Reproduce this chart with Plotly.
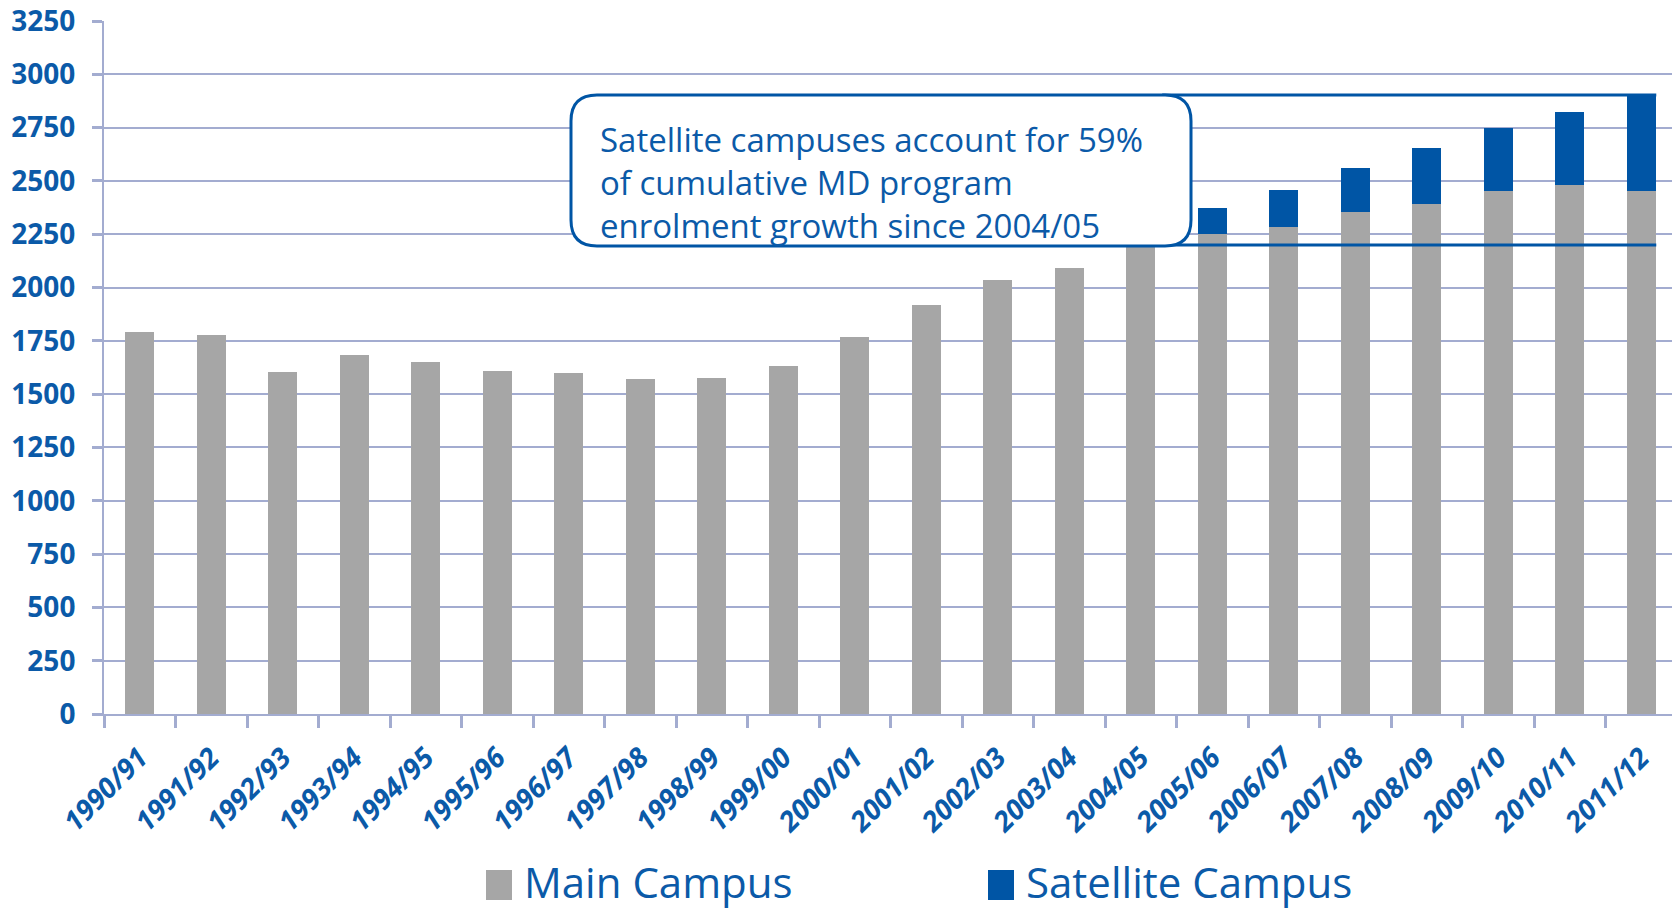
import plotly.graph_objects as go

years = ["1990/91", "1991/92", "1992/93", "1993/94", "1994/95", "1995/96", "1996/97",
         "1997/98", "1998/99", "1999/00", "2000/01", "2001/02", "2002/03", "2003/04",
         "2004/05", "2005/06", "2006/07", "2007/08", "2008/09", "2009/10", "2010/11", "2011/12"]
main_campus = [1792, 1777, 1602, 1682, 1652, 1607, 1597, 1572, 1577, 1632, 1767, 1918,
               2037, 2092, 2200, 2253, 2283, 2354, 2394, 2455, 2480, 2455]
satellite_campus = [0, 0, 0, 0, 0, 0, 0, 0, 0, 0, 0, 0, 0, 0, 0,
                    118, 173, 207, 262, 292, 342, 448]
y_ticks = list(range(0, 3251, 250))
note_text = ("Satellite campuses account for 59%<br>of cumulative MD program<br>"
             "enrolment growth since 2004/05")

GRAY = "#a6a6a6"
BLUE = "#0055a5"
TXT = "#0b5aa8"
GRID = "#a3acd0"

fig = go.Figure()
fig.add_bar(x=years, y=main_campus, name="Main Campus", marker_color=GRAY,
            marker_line_width=0, showlegend=False)
fig.add_bar(x=years, y=satellite_campus, name="Satellite Campus", marker_color=BLUE,
            marker_line_width=0, showlegend=False)

# page body has an 8px margin; figure sized to fit exactly in the 1680x909 window
OFF = 8
W, H = 1680 - OFF, 909 - OFF
PX0, PX1, PY0, PY1 = 104, 1677, 21, 714   # plot area in window pixels
L = PX0 - OFF
T = PY0 - OFF
pw, ph = PX1 - PX0, PY1 - PY0
R = W - L - pw
B = H - T - ph

def px2paper(x, y):
    return (x - PX0) / pw, (PY1 - y) / ph

# rounded note box (window pixel geometry)
bx0, by0, bx1, by1, rad = 571, 95, 1191, 246, 26
def P(x, y):
    a, b = px2paper(x, y)
    return f"{a:.5f},{b:.5f}"
path = (f"M{P(bx0+rad, by0)} L{P(bx1-rad, by0)} Q{P(bx1, by0)} {P(bx1, by0+rad)} "
        f"L{P(bx1, by1-rad)} Q{P(bx1, by1)} {P(bx1-rad, by1)} "
        f"L{P(bx0+rad, by1)} Q{P(bx0, by1)} {P(bx0, by1-rad)} "
        f"L{P(bx0, by0+rad)} Q{P(bx0, by0)} {P(bx0+rad, by0)} Z")

top_total = main_campus[-1] + satellite_campus[-1]
base_level = main_campus[years.index("2004/05")]
line_x0 = 14.3
line_x1 = len(years) - 1 + 0.21

for lvl in (top_total, base_level):
    fig.add_shape(type="line", xref="x", yref="y", x0=line_x0, x1=line_x1, y0=lvl, y1=lvl,
                  line=dict(color=BLUE, width=3), layer="above")
fig.add_shape(type="path", xref="paper", yref="paper", path=path, fillcolor="white",
              line=dict(color=BLUE, width=3), layer="above")

ax, ay = px2paper(bx0 + 27, 183)
fig.add_annotation(xref="paper", yref="paper", x=ax, y=ay, xanchor="left", yanchor="middle",
                   text=note_text, showarrow=False, align="left",
                   font=dict(family="Open Sans", size=33, color=TXT))

# custom legend
legend_items = [("Main Campus", GRAY, 486), ("Satellite Campus", BLUE, 988)]
for label, col, lx in legend_items:
    x0, y0 = px2paper(lx, 870)
    x1, y1 = px2paper(lx + 26, 900)
    fig.add_shape(type="rect", xref="paper", yref="paper", x0=x0, x1=x1, y0=y0, y1=y1,
                  fillcolor=col, line_width=0)
    tx, ty = px2paper(lx + 36, 881)
    fig.add_annotation(xref="paper", yref="paper", x=tx, y=ty, xanchor="left", yanchor="middle",
                       text=label, showarrow=False,
                       font=dict(family="Open Sans", size=42, color=TXT))

fig.update_layout(
    barmode="stack", bargap=0.6,
    width=W, height=H,
    margin=dict(l=L, r=R, t=T, b=B, pad=0, autoexpand=False),
    plot_bgcolor="white", paper_bgcolor="white",
    showlegend=False,
)
fig.update_xaxes(type="category", showgrid=False, showline=True, linecolor=GRID, linewidth=2,
                 ticks="outside", tickson="boundaries", ticklen=12, tickwidth=3, tickcolor=GRID,
                 tickangle=-45, ticklabelstandoff=14, automargin=False,
                 tickfont=dict(family="Open Sans", size=28, color=TXT, weight="bold", style="italic"))
fig.update_yaxes(range=[0, 3250], tickvals=y_ticks, showgrid=True, gridcolor=GRID, gridwidth=1.5,
                 showline=True, linecolor=GRID, linewidth=2, ticks="outside", ticklen=10,
                 tickwidth=3, tickcolor=GRID, zeroline=False, ticklabelstandoff=11,
                 ticklabeloverflow="allow", automargin=False,
                 tickfont=dict(family="Open Sans", size=28, color=TXT, weight="bold"))

fig.write_html("out.html")
